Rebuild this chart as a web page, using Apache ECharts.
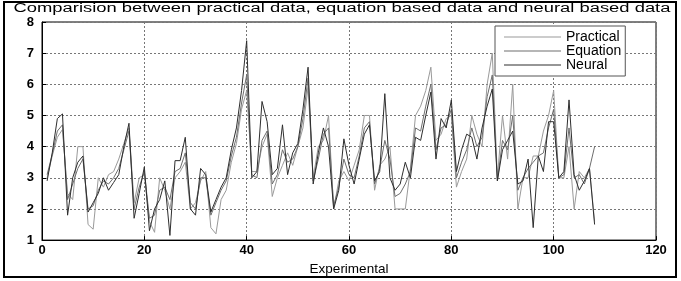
<!DOCTYPE html>
<html>
<head>
<meta charset="utf-8">
<script src="https://cdn.jsdelivr.net/npm/echarts@6/dist/echarts.min.js"></script>
<style>
  html, body { margin: 0; padding: 0; background: #fff; }
  #myChart { width: 681px; height: 281px; }
</style>
</head>
<body>
<div id="myChart"></div>
<script>
// x = experiment number 1..108
var practical = [3.0,3.7,4.3,4.55,2.5,2.3,4.0,4.0,1.5,1.35,3.0,2.7,3.1,3.2,3.6,4.1,4.6,2.2,3.0,3.1,
  1.6,1.25,3.0,2.6,2.0,3.0,3.2,3.5,2.0,2.2,2.9,3.2,1.4,1.2,2.3,2.6,3.5,4.1,5.2,5.8,
  3.2,3.2,4.0,4.4,2.4,3.0,3.4,3.8,3.4,4.0,4.6,5.9,3.0,4.0,4.2,5.0,2.0,2.9,3.2,2.9,
  3.4,3.9,5.0,5.0,2.6,3.4,3.6,4.0,2.0,2.0,2.0,3.3,5.0,5.3,5.8,6.55,4.2,4.4,4.9,5.0,
  2.7,3.2,3.6,5.0,4.4,4.0,6.0,7.0,3.0,5.0,3.6,6.0,2.0,3.0,3.0,3.7,3.7,4.5,5.0,5.8,
  3.0,3.0,4.0,2.0,3.2,3.0,3.3,1.6];
var equation = [3.1,3.75,4.5,4.7,2.3,2.8,3.3,3.6,2.0,2.1,2.6,2.9,2.8,3.0,3.3,3.9,4.5,2.0,2.7,3.2,
  1.7,1.8,2.6,2.7,2.3,3.2,3.3,3.8,2.2,2.0,3.0,3.0,1.8,2.2,2.6,2.9,3.7,4.3,5.4,6.3,
  3.1,3.0,4.2,4.5,2.8,3.1,3.9,3.5,3.6,4.0,4.9,6.2,2.9,3.6,4.4,4.6,2.1,2.7,3.6,3.1,
  3.0,3.7,4.6,4.8,2.8,3.3,4.2,3.6,2.4,2.5,2.8,3.2,4.6,4.5,5.3,6.0,3.9,4.6,4.7,5.2,
  3.0,3.5,3.9,4.6,4.0,4.3,5.6,6.3,2.9,4.2,3.9,5.0,2.6,3.0,3.3,3.5,3.7,3.8,4.6,5.2,
  3.0,3.1,4.6,3.0,3.1,2.8,3.3,4.0];
var neural = [2.9,3.8,4.9,5.05,1.8,3.0,3.5,3.7,1.9,2.2,2.5,3.0,2.6,2.85,3.1,4.0,4.75,1.7,2.5,3.35,
  1.3,2.0,2.3,2.9,1.15,3.55,3.55,4.3,2.0,1.8,3.3,3.1,1.9,2.3,2.7,3.0,3.9,4.6,5.8,7.4,
  3.0,3.2,5.45,4.8,3.1,3.3,4.7,3.1,3.8,4.1,5.2,6.55,2.8,3.8,4.6,4.0,2.0,2.6,4.25,3.4,
  2.8,3.6,4.4,4.7,2.9,3.2,5.7,3.0,2.6,2.8,3.5,3.0,4.3,4.2,5.0,5.75,3.6,4.9,4.6,5.5,
  3.2,3.9,4.4,4.3,3.6,4.6,5.3,5.85,2.9,3.9,4.2,4.5,2.8,2.9,3.6,1.4,3.7,3.2,4.8,4.8,
  3.0,3.2,5.5,3.1,2.6,2.9,3.3,1.5];

function pairs(arr) {
  return arr.map(function (v, i) { return [i + 1, v]; });
}

var font = 'Liberation Sans, Arial, sans-serif';
var myChart = echarts.init(document.getElementById('myChart'));
myChart.setOption({
  backgroundColor: '#fff',
  animation: false,
  color: ['#9a9a9a', '#6e6e6e', '#2e2e2e'],
  graphic: [
    {
      type: 'rect', z: -1,
      shape: { x: 4, y: 2, width: 672, height: 275 },
      style: { fill: 'none', stroke: '#000', lineWidth: 2 }
    },
    {
      type: 'text', x: 342, y: 9, scaleX: 1.47,
      style: {
        text: 'Comparision between practical data, equation based data and neural based data',
        font: '12.5px ' + font, fill: '#000', align: 'center', verticalAlign: 'middle'
      }
    }
  ],
  legend: {
    orient: 'vertical',
    left: 495, top: 26,
    padding: [4, 4, 4, 9],
    itemGap: 0,
    icon: 'rect',
    itemWidth: 57, itemHeight: 1,
    backgroundColor: '#fff',
    borderColor: '#555', borderWidth: 1,
    textStyle: { fontFamily: font, fontSize: 14, lineHeight: 12, color: '#000' },
    data: ['Practical', 'Equation', 'Neural']
  },
  grid: {
    left: 42, right: 25, top: 22, bottom: 29,
    show: true, borderColor: '#000', borderWidth: 1
  },
  xAxis: {
    type: 'value', min: 0, max: 120, interval: 20,
    name: 'Experimental', nameLocation: 'middle', nameGap: 18,
    nameTextStyle: { fontFamily: font, fontSize: 13.5, color: '#000' },
    axisLine: { show: true, lineStyle: { color: '#000' } },
    axisTick: { inside: true, length: 4, lineStyle: { color: '#000' } },
    axisLabel: { fontFamily: font, fontSize: 13, fontWeight: 'bold', color: '#000', margin: 4 },
    splitLine: { show: true, lineStyle: { color: '#777', type: [2, 2], width: 1 } }
  },
  yAxis: {
    type: 'value', min: 1, max: 8, interval: 1,
    axisLine: { show: true, lineStyle: { color: '#000' } },
    axisTick: { inside: true, length: 4, lineStyle: { color: '#000' } },
    axisLabel: { fontFamily: font, fontSize: 13, fontWeight: 'bold', color: '#000', margin: 8 },
    splitLine: { show: true, lineStyle: { color: '#777', type: [2, 2], width: 1 } }
  },
  series: [
    { name: 'Practical', type: 'line', data: pairs(practical), symbol: 'none',
      lineStyle: { width: 1, color: '#9a9a9a' } },
    { name: 'Equation', type: 'line', data: pairs(equation), symbol: 'none',
      lineStyle: { width: 1, color: '#6e6e6e' } },
    { name: 'Neural', type: 'line', data: pairs(neural), symbol: 'none',
      lineStyle: { width: 1, color: '#2e2e2e' } }
  ]
});
</script>
</body>
</html>
